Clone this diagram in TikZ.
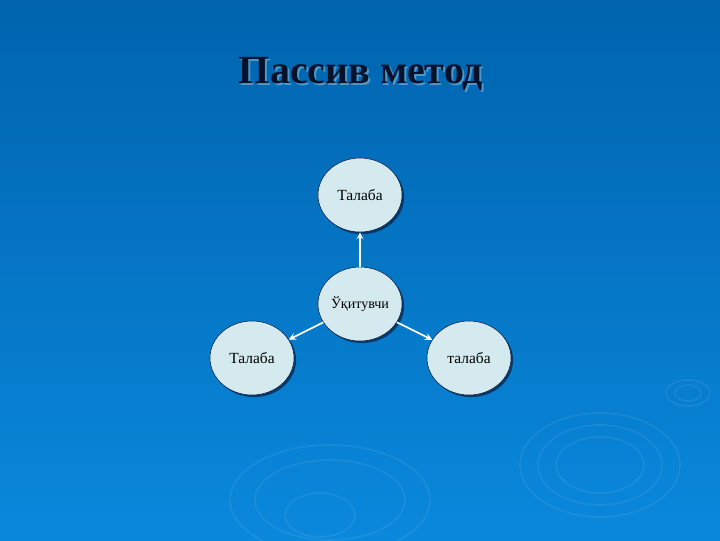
\documentclass[tikz,border=0pt]{standalone}
\usepackage{fontspec}
\setmainfont{Liberation Serif}
\usetikzlibrary{shapes.geometric, shadows}

\definecolor{slidetop}{RGB}{0,100,174}
\definecolor{slidebot}{RGB}{10,136,220}
\definecolor{bubble}{RGB}{212,234,238}
\definecolor{rim}{RGB}{10,30,70}

\begin{document}
\begin{tikzpicture}[x=0.025cm, y=-0.025cm,
        person/.style={ellipse, draw=rim, thin, fill=bubble, minimum width=84*0.025cm,
                minimum height=74*0.025cm, inner sep=0pt, font=\fontsize{11}{13}\selectfont,
                drop shadow={shadow xshift=1.5pt, shadow yshift=-1.5pt, fill=rim, opacity=0.7}},
        link/.style={draw=white, line width=1.2pt, -stealth},
        ripple/.style={draw=white, opacity=0.07, line width=1.2pt}]

        % background
        \shade[top color=slidetop, bottom color=slidebot] (0, 0) rectangle (720, 540);
        \useasboundingbox (0, 0) rectangle (720, 540);

        % ripples
        \draw[ripple] (600, 465) ellipse (80 and 52);
        \draw[ripple] (600, 465) ellipse (62 and 40);
        \draw[ripple] (600, 465) ellipse (44 and 28);
        \draw[ripple] (688, 393) ellipse (22 and 13);
        \draw[ripple] (688, 393) ellipse (13 and 8);
        \draw[ripple] (330, 500) ellipse (100 and 55);
        \draw[ripple] (330, 500) ellipse (75 and 40);
        \draw[ripple] (320, 515) ellipse (35 and 22);

        % title
        \node[font=\bfseries\fontsize{28.4}{32}\selectfont, text=white, opacity=0.3] at (363, 76) {Пассив метод};
        \node (title) [font=\bfseries\fontsize{28.4}{32}\selectfont, text=rim!60!black] at (361, 74) {Пассив метод};

        \node (top)   [person] at (360, 195) {Талаба};
        \node (teach) [person, font=\fontsize{10}{12}\selectfont] at (360, 304) {Ўқитувчи};
        \node (left)  [person] at (252, 358) {Талаба};
        \node (right) [person] at (469, 358) {талаба};

        \draw[link] (teach) -- (top);
        \draw[link] (teach) -- (left);
        \draw[link] (teach) -- (right);

\end{tikzpicture}
\end{document}
